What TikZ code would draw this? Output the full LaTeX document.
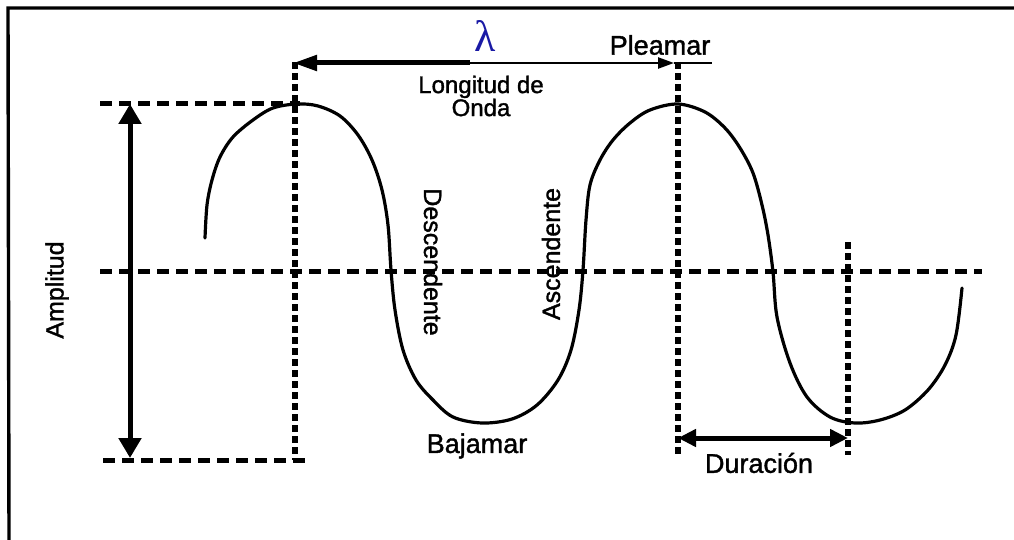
\documentclass[tikz,border=0pt]{standalone}
\usepackage{fontspec}
\setmainfont[FakeBold=1.4]{Liberation Sans}
\newfontfamily\lamfont{Liberation Serif}
\usetikzlibrary{arrows.meta}
\definecolor{lamblue}{RGB}{25,25,165}
\begin{document}
\begin{tikzpicture}[x=1pt,y=-1pt,
  frame/.style={line width=3.4pt},
  hdash/.style={line width=5pt, dash pattern=on 12pt off 7pt},
  vdash/.style={line width=5.2pt, dash pattern=on 7pt off 4pt},
  wave/.style={line width=3.2pt, line join=round, line cap=round},
  bigarrow/.style={line width=5pt},
  lbl/.style={font=\fontsize{27}{30}\selectfont, inner sep=0pt}
]
\useasboundingbox (0,0) rectangle (1014,540);
% frame
\coordinate (f1) at (8,8); \coordinate (f2) at (1014,8); \coordinate (f3) at (9,540);
\draw[frame] (f2) -- (f1) -- (f3);

% reference coordinates
\coordinate (topL) at (100,104);  \coordinate (topR) at (300,104);
\coordinate (botL) at (103,460);  \coordinate (botR) at (310,460);
\coordinate (midL) at (100,271);  \coordinate (midR) at (982,271);
\coordinate (v1t) at (295,62);    \coordinate (v1b) at (295,460);
\coordinate (v2t) at (678,62);    \coordinate (v2b) at (678,455);
\coordinate (v3t) at (848,242);   \coordinate (v3b) at (848,455);

% dashed guides
\draw[hdash] (topL) -- (topR);
\draw[hdash] (botL) -- (botR);
\draw[hdash] (midL) -- (midR);
\draw[vdash] (v1t) -- (v1b);
\draw[vdash] (v2t) -- (v2b);
\draw[vdash] (v3t) -- (v3b);

% wave
\draw[wave] plot[smooth, tension=0.55] coordinates {
 (205,238) (207,205) (212,180) (220,157) (233,137) (253,120) (273,108) (297,104)
 (318,106) (340,116) (358,135) (372,160) (382,190) (388,225) (391,270) (395,310)
 (403,350) (416,380) (433,400) (453,417) (482,423) (512,419) (537,405) (558,380)
 (571,350) (579,310) (583,270) (586,220) (590,185) (600,160) (613,140) (630,123)
 (650,110) (678,104) (705,112) (725,128) (740,148) (753,173) (762,205) (768,235)
 (773,272) (777,317) (790,363) (807,397) (830,417) (855,423) (880,420) (905,410)
 (928,390) (945,365) (956,335) (962,288)};

% amplitude arrow
\coordinate (aT) at (130,104); \coordinate (aB) at (130,458);
\draw[bigarrow, {Triangle[length=20pt,width=22pt]}-{Triangle[length=20pt,width=22pt]}] (aT) -- (aB);
\node[lbl, font=\fontsize{25}{28}\selectfont, rotate=90] (amp) at (57,290) {Amplitud};

% wavelength arrow
\coordinate (lL) at (293,63); \coordinate (lM) at (470,63);
\coordinate (lR) at (674,63); \coordinate (lE) at (712,63);
\draw[bigarrow, {Triangle[length=24pt,width=15pt]}-] (lL) -- (lM);
\draw[line width=2.4pt, -{Triangle[length=16pt,width=11pt]}] (lM) -- (lR);
\draw[line width=2.4pt] (lR) -- (lE);
\node[inner sep=0pt, text=lamblue, font=\lamfont\fontsize{44}{48}\selectfont] (lam) at (485,36) {λ};
\node[lbl] (plea) at (660,45) {Pleamar};
\node[lbl, align=center, font=\fontsize{24}{23}\selectfont] (lon) at (481,96) {Longitud de\\Onda};

% side labels
\node[lbl, font=\fontsize{25}{28}\selectfont, rotate=-90] (desc) at (433,262) {Descendente};
\node[lbl, font=\fontsize{25}{28}\selectfont, rotate=90] (asc) at (551,254) {Ascendente};
\node[lbl] (baja) at (477,446) {Bajamar};

% duration arrow
\coordinate (dL) at (678,438); \coordinate (dR) at (848,438);
\draw[bigarrow, {Triangle[length=18pt,width=17pt]}-{Triangle[length=18pt,width=17pt]}] (dL) -- (dR);
\node[lbl] (dur) at (759,463) {Duración};
\end{tikzpicture}
\end{document}
